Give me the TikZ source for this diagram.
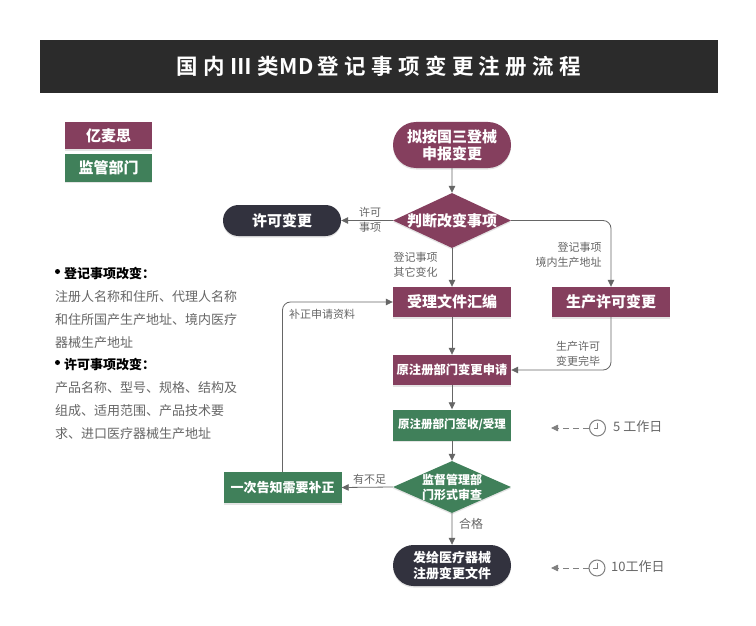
\documentclass[tikz,border=0pt]{standalone}
\usepackage{fontspec}
\setmainfont{Noto Sans CJK SC}
\newfontfamily\titlefont[LetterSpace=25,BoldFont={Noto Sans CJK SC Bold}]{Noto Sans CJK SC}
\newfontfamily\titletight[LetterSpace=4,BoldFont={Noto Sans CJK SC Bold}]{Noto Sans CJK SC}
\usetikzlibrary{arrows.meta,shapes.geometric,shapes.misc,shadows}
\definecolor{plum}{HTML}{853F5E}
\definecolor{leaf}{HTML}{40805A}
\definecolor{ink}{HTML}{32323E}
\definecolor{linecol}{HTML}{666666}
\definecolor{txtcol}{HTML}{666666}
\newcommand{\fs}[1]{\fontsize{#1pt}{#1pt}\selectfont}
\tikzset{
  shade1/.style={drop shadow={shadow xshift=0pt,shadow yshift=-1.5pt,fill=black!35,opacity=.3}},
  boxbase/.style={draw=none,inner sep=0pt,align=center,text=white,font=\bfseries,shade1},
  plumbox/.style={boxbase,rectangle,fill=plum,minimum width=118pt,minimum height=30pt},
  leafbox/.style={boxbase,rectangle,fill=leaf,minimum width=118pt,minimum height=31pt},
  pill/.style={boxbase,rounded rectangle,minimum width=118pt},
  choice/.style={draw=none,diamond,aspect=2.1,inner sep=0pt,minimum width=118pt,shade1},
  choicetext/.style={inner sep=0pt,align=center,text=white,font=\bfseries},
  conn/.style={draw=linecol,line width=.8pt,-{Triangle[length=7pt,width=6.5pt,fill=linecol]}},
  note/.style={inner sep=0pt,align=center,text=txtcol,font=\fs{11}},
  side/.style={inner sep=0pt,anchor=west,text=txtcol,font=\fs{13}},
  sidehead/.style={inner sep=0pt,anchor=west,text=black,font=\fs{13}\bfseries},
  clockface/.style={circle,draw=gray,line width=1pt,minimum size=16pt,inner sep=0pt},
  wait/.style={draw=gray,line width=.8pt,dash pattern=on 6pt off 4pt,-{Triangle[length=7pt,width=6.5pt,fill=gray]}},
}
\begin{document}
\begin{tikzpicture}[x=1pt,y=-1pt]
\useasboundingbox (0,0) rectangle (756,626);
\fill[white] (0,0) rectangle (756,626);
\node[rectangle,fill=black!83,minimum width=678pt,minimum height=53pt,inner sep=0pt,text=white] (title) at (379,66.5) {\raisebox{-1.5pt}{\fs{21.5}\bfseries\titlefont 国内Ⅲ类{\titletight MD}\hspace{4pt}登记事项变更注册流程}};

\node[plumbox,minimum width=87pt,minimum height=27pt,font=\fs{15}\bfseries] (legA) at (108.5,135.5) {亿麦思};
\node[leafbox,minimum width=87pt,minimum height=28pt,font=\fs{15}\bfseries] (legB) at (108.5,167.5) {监管部门};

\node[pill,fill=plum,minimum height=46pt,font=\fs{15}\bfseries] (start) at (452,145) {拟按国三登械\\[2pt]申报变更};
\node[choice,fill=plum,minimum height=55pt] (judge) at (452,220.5) {};
\node[choicetext,font=\fs{15}\bfseries] (judgeT) at (judge.center) {判断改变事项};
\node[pill,fill=ink,minimum height=31pt,font=\fs{15}\bfseries] (permit) at (282,220.5) {许可变更};
\node[plumbox,font=\fs{15}\bfseries] (collect) at (452,302) {受理文件汇编};
\node[plumbox,font=\fs{15}\bfseries] (prod) at (611,302) {生产许可变更};
\node[plumbox,font=\fs{12.3}\bfseries] (apply) at (452,370) {原注册部门变更申请};
\node[leafbox,font=\fs{11.5}\bfseries] (accept) at (452,425) {原注册部门签收/受理};
\node[choice,fill=leaf,minimum height=52pt] (review) at (452,487) {};
\node[choicetext,font=\fs{12}\bfseries] (reviewT) at (review.center) {监督管理部\\[3pt]门形式审查};
\node[leafbox,font=\fs{13}\bfseries] (notify) at (282.5,487.5) {一次告知需要补正};
\node[pill,fill=ink,minimum height=41pt,font=\fs{13}\bfseries] (issue) at (452,565.5) {发给医疗器械\\[3pt]注册变更文件};

\draw[conn] (start) -- (judge);
\draw[conn] (judge) -- (collect);
\draw[conn] (judge.west) -- (permit.east);
\draw[conn,rounded corners=8pt] (judge.east) -| (prod.north);
\draw[conn] (collect) -- (apply);
\draw[conn,rounded corners=8pt] (prod.south) |- (apply.east);
\draw[conn] (apply) -- (accept);
\draw[conn] (accept) -- (review);
\draw[conn] (review.west) -- (notify.east);
\draw[conn] (review) -- (issue);
\draw[conn,rounded corners=8pt] (notify.north) |- (collect.west);

\node[note] (lblA) at (370,220) {许可\\[4pt]事项};
\node[note] (lblB) at (415.5,265) {登记事项\\[4pt]其它变化};
\node[note,align=right] (lblC) at (568.5,255) {登记事项\\[4pt]境内生产地址};
\node[note] (lblD) at (322,314) {补正申请资料};
\node[note] (lblE) at (578,354) {生产许可\\[4pt]变更完毕};
\node[note] (lblF) at (369.5,479) {有不足};
\node[note,font=\fs{12}] (lblG) at (471,524) {合格};

\fill[black] (57.5,271.5) circle (2.5);
\node[sidehead] (s1) at (64,274) {登记事项改变：};
\node[side] (s2) at (55,297) {注册人名称和住所、代理人名称};
\node[side] (s3) at (55,320) {和住所国产生产地址、境内医疗};
\node[side] (s4) at (55,343) {器械生产地址};
\fill[black] (57.5,362.5) circle (2.5);
\node[sidehead] (s5) at (64,365) {许可事项改变：};
\node[side] (s6) at (55,388) {产品名称、型号、规格、结构及};
\node[side] (s7) at (55,411) {组成、适用范围、产品技术要};
\node[side] (s8) at (55,434) {求、进口医疗器械生产地址};

\node[clockface] (clockA) at (597.5,428) {};
\draw[gray,line width=1pt] (clockA.center) ++(0,-5) -- (clockA.center) -- ++(-4,0);
\coordinate (tipA) at (551,428);
\draw[wait] (clockA.west) -- (tipA);
\node[side,anchor=west] (dayA) at (613,427) {5 工作日};
\node[clockface] (clockB) at (597,568) {};
\draw[gray,line width=1pt] (clockB.center) ++(0,-5) -- (clockB.center) -- ++(-4,0);
\coordinate (tipB) at (551,568);
\draw[wait] (clockB.west) -- (tipB);
\node[side,anchor=west] (dayB) at (611,567) {10工作日};
\end{tikzpicture}
\end{document}
